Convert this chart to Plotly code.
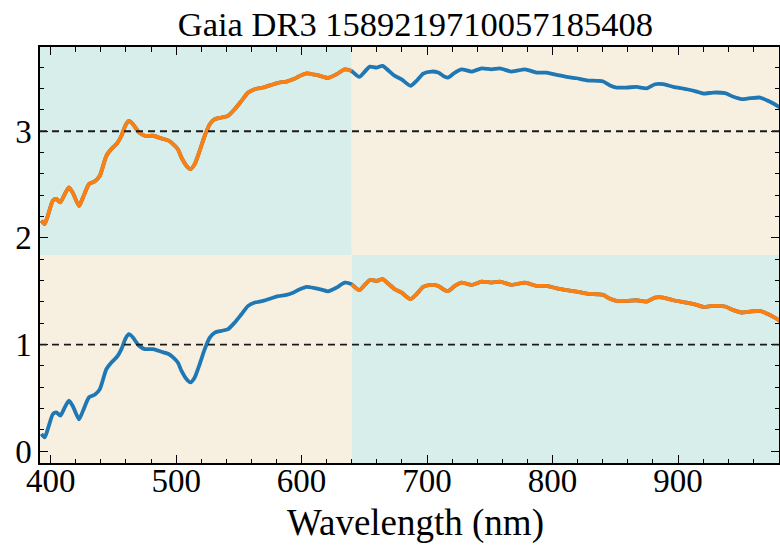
import plotly.graph_objects as go

# Wavelength (nm) and normalised flux of the spectrum (lower copy); upper copy is offset by +2
wavelength = [392.6, 395.2, 397.8, 401.8, 404.5, 407.7, 411.2, 414.6, 417.8, 422.6,
              425.8, 430.5, 435.1, 439.1, 444.4, 448.4, 452.9, 456.4, 459.8, 462.5,
              465.6, 470.4, 475.0, 481.6, 488.3, 494.0, 498.0, 501.5, 504.2, 508.2,
              511.4, 514.8, 518.8, 522.8, 526.8, 530.8, 536.1, 541.4, 546.7, 552.1,
              557.4, 562.7, 569.3, 576.0, 581.3, 588.0, 593.2, 598.6, 604.0, 610.5,
              616.0, 621.1, 627.8, 634.4, 639.8, 645.9, 650.4, 654.4, 659.7, 664.5,
              669.0, 674.3, 679.7, 686.8, 691.6, 696.9, 703.6, 708.9, 714.2, 716.8,
              722.2, 727.5, 735.5, 743.5, 751.4, 758.1, 767.4, 778.0, 787.3, 795.3,
              803.3, 811.2, 819.2, 827.2, 836.4, 840.4, 845.8, 851.1, 859.1, 867.1,
              875.0, 881.7, 888.3, 896.3, 906.9, 914.9, 920.2, 928.2, 937.5, 944.2,
              950.8, 957.4, 965.4, 970.7, 976.0, 981.3]
flux = [0.163, 0.130, 0.210, 0.350, 0.365, 0.334, 0.410, 0.474, 0.420, 0.300,
        0.380, 0.505, 0.530, 0.580, 0.770, 0.833, 0.886, 0.958, 1.060, 1.098,
        1.066, 0.989, 0.958, 0.958, 0.933, 0.912, 0.875, 0.830, 0.755, 0.677,
        0.645, 0.692, 0.818, 0.958, 1.066, 1.113, 1.129, 1.145, 1.207, 1.285,
        1.363, 1.394, 1.410, 1.435, 1.454, 1.466, 1.487, 1.519, 1.542, 1.530,
        1.515, 1.500, 1.534, 1.580, 1.565, 1.510, 1.560, 1.606, 1.597, 1.613,
        1.572, 1.519, 1.487, 1.426, 1.472, 1.541, 1.560, 1.550, 1.510, 1.503,
        1.550, 1.581, 1.560, 1.590, 1.581, 1.590, 1.560, 1.581, 1.550, 1.550,
        1.528, 1.510, 1.497, 1.478, 1.472, 1.466, 1.430, 1.410, 1.410, 1.416,
        1.403, 1.441, 1.441, 1.416, 1.394, 1.372, 1.354, 1.363, 1.357, 1.323,
        1.301, 1.310, 1.316, 1.291, 1.260, 1.223]
offset = 2.0
split_nm = 640.0
x_range = [391.5, 980.5]
y_range = [-0.11, 3.79]
x_ticks = [400, 500, 600, 700, 800, 900]
y_ticks = [0, 1, 2, 3]
ref_levels = [1, 3]

BLUE = "#1f77b4"
ORANGE = "#ff7f0e"
TEAL = "#d8eeeb"
BEIGE = "#f7f0e1"
FONT = "'Liberation Serif', 'DejaVu Serif', serif"
TICKC = "black"

top_flux = [f + offset for f in flux]
top_fit_x = [w for w in wavelength if w <= split_nm + 1]
top_fit_y = [f for w, f in zip(wavelength, top_flux) if w <= split_nm + 1]
bot_fit_x = [w for w in wavelength if w >= split_nm - 1]
bot_fit_y = [f for w, f in zip(wavelength, flux) if w >= split_nm - 1]

fig = go.Figure()
line_kw = dict(width=3.8, shape="spline", smoothing=0.6)
fig.add_trace(go.Scatter(x=wavelength, y=top_flux, mode="lines", line=dict(color=BLUE, **line_kw)))
fig.add_trace(go.Scatter(x=wavelength, y=flux, mode="lines", line=dict(color=BLUE, **line_kw)))
fig.add_trace(go.Scatter(x=top_fit_x, y=top_fit_y, mode="lines", line=dict(color=ORANGE, **line_kw)))
fig.add_trace(go.Scatter(x=bot_fit_x, y=bot_fit_y, mode="lines", line=dict(color=ORANGE, **line_kw)))
# invisible trace to activate the mirrored (top/right) tick axes
fig.add_trace(go.Scatter(x=wavelength[:1], y=flux[:1], mode="markers", marker=dict(opacity=0),
                         xaxis="x2", yaxis="y2", hoverinfo="skip"))

for lvl in ref_levels:
    fig.add_shape(type="line", xref="paper", x0=0, x1=1, yref="y", y0=lvl, y1=lvl,
                  line=dict(color="#1a1a1a", width=1.8, dash="7px,5px"), layer="above")

y_mid = (y_range[0] + y_range[1]) / 2
bg = [(x_range[0], split_nm, y_mid, y_range[1], TEAL),
      (split_nm, x_range[1], y_mid, y_range[1], BEIGE),
      (x_range[0], split_nm, y_range[0], y_mid, BEIGE),
      (split_nm, x_range[1], y_range[0], y_mid, TEAL)]
for x0, x1, y0, y1, c in bg:
    fig.add_shape(type="rect", xref="x", yref="y", x0=x0, x1=x1, y0=y0, y1=y1,
                  fillcolor=c, line=dict(width=0), layer="below")

tick_common = dict(ticks="inside", ticklen=8, tickwidth=1.3, tickcolor=TICKC,
                   showgrid=False, zeroline=False, automargin=False)
x_minor = dict(ticks="inside", dtick=20, tick0=400, ticklen=4.5, tickwidth=1.1, tickcolor=TICKC, showgrid=False)
y_minor = dict(ticks="inside", dtick=0.2, tick0=0, ticklen=4.5, tickwidth=1.1, tickcolor=TICKC, showgrid=False)

fig.update_layout(
    xaxis=dict(range=x_range, tickvals=x_ticks, minor=x_minor, showline=True, linecolor="black",
               linewidth=1.5, mirror=True, ticklabelstandoff=-12,
               tickfont=dict(family=FONT, size=33, color="black"), **tick_common),
    yaxis=dict(range=y_range, tickvals=y_ticks, minor=y_minor, showline=True, linecolor="black",
               linewidth=1.5, mirror=True,
               tickfont=dict(family=FONT, size=33, color="black"), **tick_common),
    xaxis2=dict(range=x_range, tickvals=x_ticks, minor=x_minor, overlaying="x", side="top",
                anchor="y2", matches="x", showticklabels=False, showline=False, **tick_common),
    yaxis2=dict(range=y_range, tickvals=y_ticks, minor=y_minor, overlaying="y", side="right",
                anchor="x2", matches="y", showticklabels=False, showline=False, **tick_common),
)

fig.add_annotation(text="Wavelength (nm)", xref="paper", yref="paper", x=0.508, y=-0.145,
                   yanchor="middle", showarrow=False,
                   font=dict(family=FONT, size=37, color="black"))

fig.update_layout(
    width=780, height=545,
    margin=dict(l=40, r=1, t=47, b=82, pad=0),
    paper_bgcolor="white", plot_bgcolor="white",
    showlegend=False,
    title=dict(text="Gaia DR3 1589219710057185408", x=0.508, xref="paper",
               y=1 - 24 / 545, yref="container", yanchor="middle",
               font=dict(family=FONT, size=34.5, color="black")),
)

fig.write_html("out.html")
